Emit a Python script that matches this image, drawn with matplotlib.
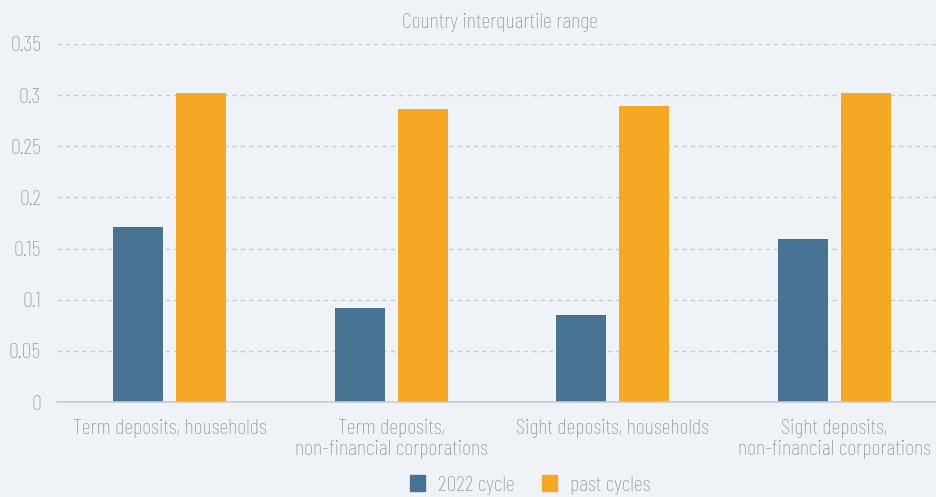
import numpy as np
import matplotlib.pyplot as plt
from matplotlib.patches import Patch

plt.rcParams['font.family'] = ['Barlow Condensed', 'Roboto Condensed', 'DejaVu Sans']
plt.rcParams['font.weight'] = 'light'

categories = ['Term deposits, households',
              'Term deposits,\nnon-financial corporations',
              'Sight deposits, households',
              'Sight deposits,\nnon-financial corporations']
cycle_2022 = [0.171, 0.092, 0.085, 0.159]
past_cycles = [0.302, 0.2865, 0.289, 0.302]
yticks = [0, 0.05, 0.1, 0.15, 0.2, 0.25, 0.3, 0.35]
ytick_labels = ['0', '0.05', '0.1', '0.15', '0.2', '0.25', '0.3', '0.35']

bg = '#eff3f8'
blue = '#487291'
orange = '#f5a824'
txt = '#8c8f94'

fig = plt.figure(figsize=(9.36, 4.97), dpi=100, facecolor=bg)
ax = fig.add_axes([57 / 936, 1 - 402 / 497, 1 - 57 / 936, (402 - 44) / 497])
ax.set_facecolor(bg)

x = np.arange(len(categories))
w = 0.2255
ax.bar(x - 0.142, cycle_2022, w, color=blue, zorder=3)
ax.bar(x + 0.142, past_cycles, w, color=orange, zorder=3)

ax.set_xlim(-0.507, 3.458)
ax.set_ylim(0, 0.35)
ax.set_yticks(yticks)
ax.set_yticklabels(ytick_labels)
ax.set_xticks(x)
ax.set_xticklabels(categories, linespacing=1.15)
ax.tick_params(axis='both', length=0, labelsize=16, colors=txt)
ax.tick_params(axis='y', pad=11.5)
ax.tick_params(axis='x', pad=12)
ax.grid(axis='y', color='#c8cacd', linestyle=(0, (3, 3)), linewidth=1, zorder=0)
for s in ['top', 'right', 'left']:
    ax.spines[s].set_visible(False)
ax.spines['bottom'].set_color('#c8cacd')
ax.spines['bottom'].set_linewidth(1.2)
ax.spines['bottom'].set_zorder(4)

fig.text(500 / 936, 1 - 22 / 497, 'Country interquartile range', ha='center', va='center',
         fontsize=16, color=txt)

handles = [Patch(color=blue, label='2022 cycle'), Patch(color=orange, label='past cycles')]
fig.legend(handles=handles, loc='center', bbox_to_anchor=(530 / 936, 1 - 485 / 497), ncol=2,
           frameon=False, fontsize=16, labelcolor=txt, handlelength=0.68, handleheight=0.68,
           columnspacing=1.2, handletextpad=0.6)

fig.savefig('out.png', dpi=100, facecolor=bg)
